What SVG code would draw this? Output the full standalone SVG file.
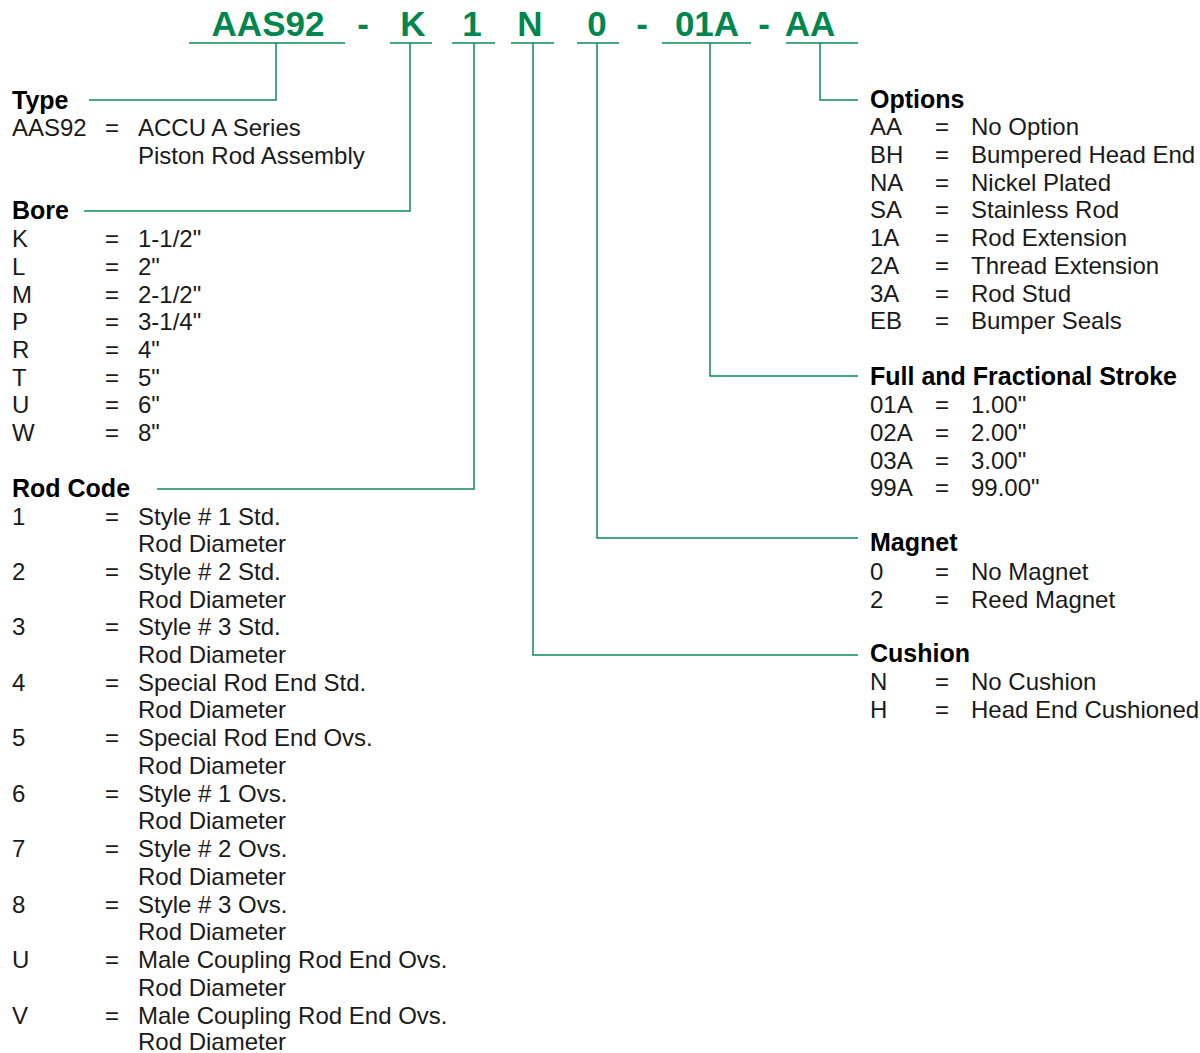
<svg xmlns="http://www.w3.org/2000/svg" width="1200" height="1053" viewBox="0 0 1200 1053">
<style>
.hd{font-family:"Liberation Sans",Arial,sans-serif;font-weight:bold;font-size:35px;fill:#00874f;text-anchor:middle}
.h{font-family:"Liberation Sans",Arial,sans-serif;font-weight:bold;font-size:25px;fill:#000}
.t{font-family:"Liberation Sans",Arial,sans-serif;font-size:24px;fill:#1a1a1a}
.ln{fill:none;stroke:#0a8a5a;stroke-width:1.5}
</style>
<rect width="1200" height="1053" fill="#fff"/>
<g id="header">
<text class="hd" x="268" y="36">AAS92</text>
<text class="hd" x="363" y="36">-</text>
<text class="hd" x="413" y="36">K</text>
<text class="hd" x="472" y="36">1</text>
<text class="hd" x="530" y="36">N</text>
<text class="hd" x="597" y="36">0</text>
<text class="hd" x="642" y="36">-</text>
<text class="hd" x="707" y="36">01A</text>
<text class="hd" x="764" y="36">-</text>
<text class="hd" x="810" y="36">AA</text>
</g>
<g id="connectors">
<path class="ln" d="M189 43H345M390 43H432M452 43H495M511 43H554M577 43H619M662 43H751M786 43H858"/>
<path class="ln" d="M276 43V100H89"/>
<path class="ln" d="M410 43V211H84"/>
<path class="ln" d="M474 43V489H157"/>
<path class="ln" d="M533 43V655H858"/>
<path class="ln" d="M597 43V538H858"/>
<path class="ln" d="M710 43V376H858"/>
<path class="ln" d="M820 43V100H858"/>
</g>
<g id="type">
<text class="h" x="12" y="109">Type</text>
<text class="t" x="12" y="136">AAS92</text><text class="t" x="105" y="136">=</text><text class="t" x="138" y="136">ACCU A Series</text>
<text class="t" x="138" y="164">Piston Rod Assembly</text>
</g>
<g id="bore">
<text class="h" x="12" y="219">Bore</text>
<text class="t" x="12" y="247">K</text><text class="t" x="105" y="247">=</text><text class="t" x="138" y="247">1-1/2"</text>
<text class="t" x="12" y="275">L</text><text class="t" x="105" y="275">=</text><text class="t" x="138" y="275">2"</text>
<text class="t" x="12" y="303">M</text><text class="t" x="105" y="303">=</text><text class="t" x="138" y="303">2-1/2"</text>
<text class="t" x="12" y="330">P</text><text class="t" x="105" y="330">=</text><text class="t" x="138" y="330">3-1/4"</text>
<text class="t" x="12" y="358">R</text><text class="t" x="105" y="358">=</text><text class="t" x="138" y="358">4"</text>
<text class="t" x="12" y="386">T</text><text class="t" x="105" y="386">=</text><text class="t" x="138" y="386">5"</text>
<text class="t" x="12" y="413">U</text><text class="t" x="105" y="413">=</text><text class="t" x="138" y="413">6"</text>
<text class="t" x="12" y="441">W</text><text class="t" x="105" y="441">=</text><text class="t" x="138" y="441">8"</text>
</g>
<g id="rodcode">
<text class="h" x="12" y="497">Rod Code</text>
<text class="t" x="12" y="525">1</text><text class="t" x="105" y="525">=</text><text class="t" x="138" y="525">Style # 1 Std.</text>
<text class="t" x="138" y="552">Rod Diameter</text>
<text class="t" x="12" y="580">2</text><text class="t" x="105" y="580">=</text><text class="t" x="138" y="580">Style # 2 Std.</text>
<text class="t" x="138" y="608">Rod Diameter</text>
<text class="t" x="12" y="635">3</text><text class="t" x="105" y="635">=</text><text class="t" x="138" y="635">Style # 3 Std.</text>
<text class="t" x="138" y="663">Rod Diameter</text>
<text class="t" x="12" y="691">4</text><text class="t" x="105" y="691">=</text><text class="t" x="138" y="691">Special Rod End Std.</text>
<text class="t" x="138" y="718">Rod Diameter</text>
<text class="t" x="12" y="746">5</text><text class="t" x="105" y="746">=</text><text class="t" x="138" y="746">Special Rod End Ovs.</text>
<text class="t" x="138" y="774">Rod Diameter</text>
<text class="t" x="12" y="802">6</text><text class="t" x="105" y="802">=</text><text class="t" x="138" y="802">Style # 1 Ovs.</text>
<text class="t" x="138" y="829">Rod Diameter</text>
<text class="t" x="12" y="857">7</text><text class="t" x="105" y="857">=</text><text class="t" x="138" y="857">Style # 2 Ovs.</text>
<text class="t" x="138" y="885">Rod Diameter</text>
<text class="t" x="12" y="913">8</text><text class="t" x="105" y="913">=</text><text class="t" x="138" y="913">Style # 3 Ovs.</text>
<text class="t" x="138" y="940">Rod Diameter</text>
<text class="t" x="12" y="968">U</text><text class="t" x="105" y="968">=</text><text class="t" x="138" y="968">Male Coupling Rod End Ovs.</text>
<text class="t" x="138" y="996">Rod Diameter</text>
<text class="t" x="12" y="1024">V</text><text class="t" x="105" y="1024">=</text><text class="t" x="138" y="1024">Male Coupling Rod End Ovs.</text>
<text class="t" x="138" y="1050">Rod Diameter</text>
</g>
<g id="options">
<text class="h" x="870" y="108">Options</text>
<text class="t" x="870" y="135">AA</text><text class="t" x="935" y="135">=</text><text class="t" x="971" y="135">No Option</text>
<text class="t" x="870" y="163">BH</text><text class="t" x="935" y="163">=</text><text class="t" x="971" y="163">Bumpered Head End</text>
<text class="t" x="870" y="191">NA</text><text class="t" x="935" y="191">=</text><text class="t" x="971" y="191">Nickel Plated</text>
<text class="t" x="870" y="218">SA</text><text class="t" x="935" y="218">=</text><text class="t" x="971" y="218">Stainless Rod</text>
<text class="t" x="870" y="246">1A</text><text class="t" x="935" y="246">=</text><text class="t" x="971" y="246">Rod Extension</text>
<text class="t" x="870" y="274">2A</text><text class="t" x="935" y="274">=</text><text class="t" x="971" y="274">Thread Extension</text>
<text class="t" x="870" y="302">3A</text><text class="t" x="935" y="302">=</text><text class="t" x="971" y="302">Rod Stud</text>
<text class="t" x="870" y="329">EB</text><text class="t" x="935" y="329">=</text><text class="t" x="971" y="329">Bumper Seals</text>
</g>
<g id="stroke">
<text class="h" x="870" y="385">Full and Fractional Stroke</text>
<text class="t" x="870" y="413">01A</text><text class="t" x="935" y="413">=</text><text class="t" x="971" y="413">1.00"</text>
<text class="t" x="870" y="441">02A</text><text class="t" x="935" y="441">=</text><text class="t" x="971" y="441">2.00"</text>
<text class="t" x="870" y="469">03A</text><text class="t" x="935" y="469">=</text><text class="t" x="971" y="469">3.00"</text>
<text class="t" x="870" y="496">99A</text><text class="t" x="935" y="496">=</text><text class="t" x="971" y="496">99.00"</text>
</g>
<g id="magnet">
<text class="h" x="870" y="551">Magnet</text>
<text class="t" x="870" y="580">0</text><text class="t" x="935" y="580">=</text><text class="t" x="971" y="580">No Magnet</text>
<text class="t" x="870" y="608">2</text><text class="t" x="935" y="608">=</text><text class="t" x="971" y="608">Reed Magnet</text>
</g>
<g id="cushion">
<text class="h" x="870" y="662">Cushion</text>
<text class="t" x="870" y="690">N</text><text class="t" x="935" y="690">=</text><text class="t" x="971" y="690">No Cushion</text>
<text class="t" x="870" y="718">H</text><text class="t" x="935" y="718">=</text><text class="t" x="971" y="718">Head End Cushioned</text>
</g>
</svg>
